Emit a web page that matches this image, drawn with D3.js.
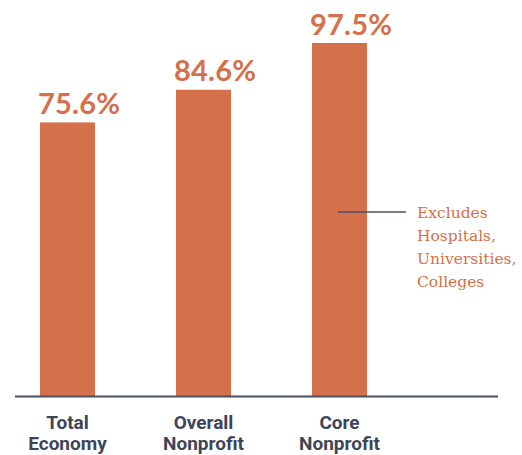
<!DOCTYPE html>
<html><head><meta charset="utf-8">
<script src="https://cdn.jsdelivr.net/npm/d3@7"></script>
<style>body{margin:0;background:#fff;}</style>
</head><body>
<svg id="c" width="522" height="455"></svg>
<script>
const categories = [["Total","Economy"],["Overall","Nonprofit"],["Core","Nonprofit"]];
const values = [75.6, 84.6, 97.5];
const valueLabels = ["75.6%","84.6%","97.5%"];
const annotationLines = ["Excludes","Hospitals,","Universities,","Colleges"];

const orange = "#d4704a", dark = "#3e4557";
const svg = d3.select("#c");
const baseY = 396.5;
const xs = d3.scaleLinear().domain([0,1]).range([40,176]);
const bw = 55;
const y = d3.scaleLinear().domain([0, 97.5]).range([baseY, 43]);

svg.selectAll("rect.bar").data(values).enter().append("rect")
  .attr("x",(d,i)=>xs(i)).attr("width",bw)
  .attr("y",d=>y(d)).attr("height",d=>baseY-y(d)).attr("fill",orange);

svg.selectAll("text.val").data(values).enter().append("text")
  .attr("x",(d,i)=>xs(i)-2).attr("y",d=>y(d)-8.5)
  .attr("font-family","Lato, 'Open Sans', sans-serif").attr("font-weight",700)
  .attr("font-size",29).attr("fill",orange).attr("letter-spacing","0.2")
  .text((d,i)=>valueLabels[i]);

svg.append("line").attr("x1",15).attr("x2",498).attr("y1",baseY).attr("y2",baseY)
  .attr("stroke","#4a5163").attr("stroke-width",2);

categories.forEach((c,i)=>{
  const t = svg.append("text").attr("text-anchor","middle")
    .attr("font-family","Roboto, sans-serif").attr("font-weight",700)
    .attr("font-size",19).attr("fill",dark);
  c.forEach((s,j)=>t.append("tspan").attr("x",xs(i)+bw/2).attr("y",429+j*21).text(s));
});

svg.append("line").attr("x1",338).attr("x2",406).attr("y1",212).attr("y2",212)
  .attr("stroke","#4a5163").attr("stroke-width",1.5);
const at = svg.append("text").attr("font-family","'DejaVu Serif', serif")
  .attr("font-size",15.5).attr("fill",orange);
annotationLines.forEach((s,j)=>at.append("tspan").attr("x",417).attr("y",218+j*23).text(s));
</script>
</body></html>
